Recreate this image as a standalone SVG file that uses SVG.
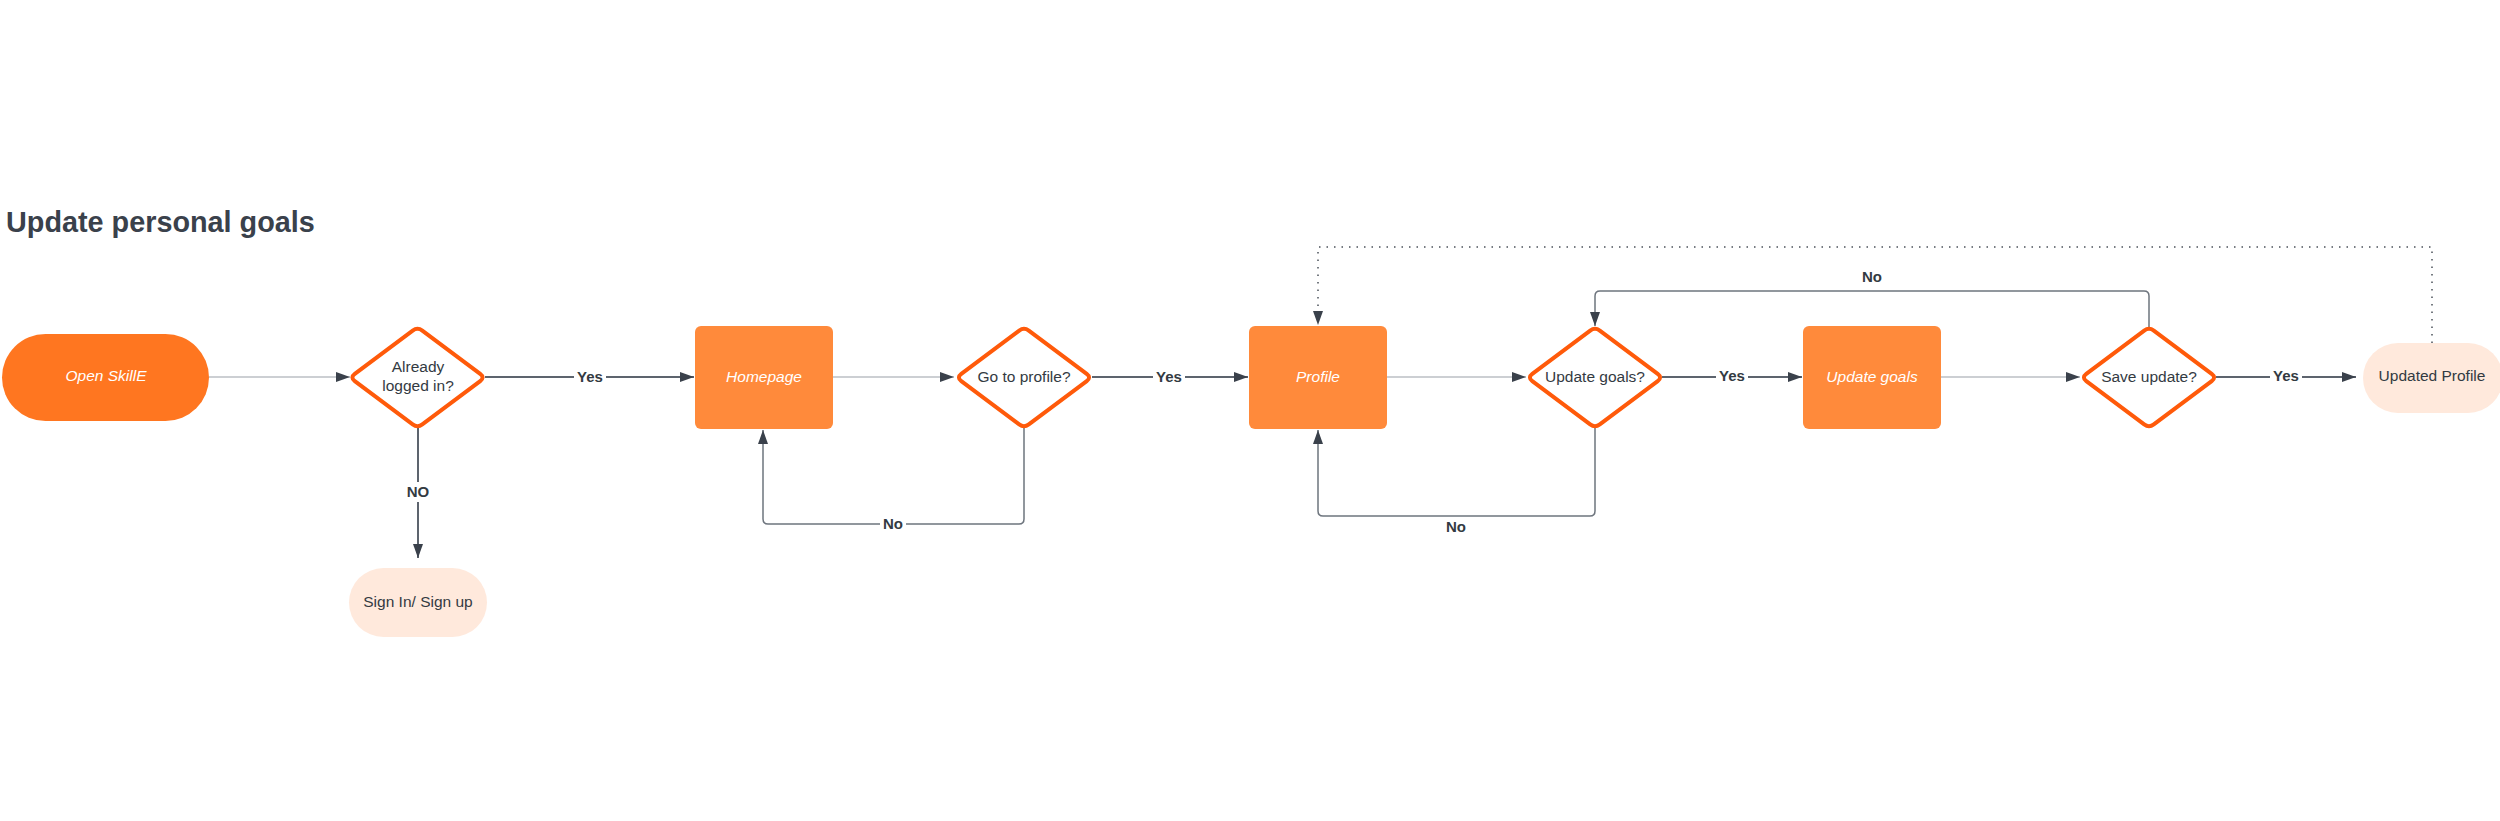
<svg xmlns="http://www.w3.org/2000/svg" width="2500" height="821" viewBox="0 0 2500 821">
<style>
.t{font-family:"Liberation Sans",Arial,sans-serif;font-size:15.5px;fill:#333a42;text-anchor:middle}
.w{fill:#ffffff;font-style:italic}
.lb{font-family:"Liberation Sans",Arial,sans-serif;font-size:15px;font-weight:bold;fill:#333a42;text-anchor:middle}
.title{font-family:"Liberation Sans",Arial,sans-serif;font-size:28.8px;font-weight:bold;fill:#3a414b}
.box{fill:#ff8a3b}
.dia{fill:#ffffff;stroke:#ff5a0a;stroke-width:4;stroke-linejoin:round}
.pill{fill:#ffe9dc}
.thin{fill:none;stroke:#9aa0a8;stroke-width:1.2}
.thick{fill:none;stroke:#5d646e;stroke-width:2}
.loop{fill:none;stroke:#6e757e;stroke-width:1.5}
.dot{fill:none;stroke:#4a5059;stroke-width:1.5;stroke-dasharray:1.5 6}
.bg{fill:#ffffff}
</style>
<defs>
<marker id="ah" markerUnits="userSpaceOnUse" markerWidth="15" markerHeight="11" refX="14" refY="5" orient="auto">
<path d="M0,0 L14,5 L0,10 z" fill="#3a414b"/>
</marker>
<path id="dshape" d="M-62.7,-3.6 L-4.8,-46.9 Q0,-50.5 4.8,-46.9 L62.7,-3.6 Q67.5,0 62.7,3.6 L4.8,46.9 Q0,50.5 -4.8,46.9 L-62.7,3.6 Q-67.5,0 -62.7,-3.6 Z"/>
</defs>
<text class="title" x="6" y="232">Update personal goals</text>
<g id="connectors">
<path class="thin" d="M209,377 H350" marker-end="url(#ah)"/>
<path class="thick" d="M485,377 H694" marker-end="url(#ah)"/>
<path class="thick" d="M418,428 V558" marker-end="url(#ah)"/>
<path class="thin" d="M833,377 H954" marker-end="url(#ah)"/>
<path class="loop" d="M1024,428 V519 Q1024,524 1019,524 H768 Q763,524 763,519 V430" marker-end="url(#ah)"/>
<path class="thick" d="M1092,377 H1248" marker-end="url(#ah)"/>
<path class="thin" d="M1387,377 H1526" marker-end="url(#ah)"/>
<path class="loop" d="M1595,428 V511 Q1595,516 1590,516 H1323 Q1318,516 1318,511 V430" marker-end="url(#ah)"/>
<path class="thick" d="M1662,377 H1802" marker-end="url(#ah)"/>
<path class="thin" d="M1941,377 H2080" marker-end="url(#ah)"/>
<path class="loop" d="M2149,327 V296 Q2149,291 2144,291 H1600 Q1595,291 1595,296 V326" marker-end="url(#ah)"/>
<path class="thick" d="M2216,377 H2356" marker-end="url(#ah)"/>
<path class="dot" d="M2432,343 V247 H1318 V325" marker-end="url(#ah)"/>
<rect class="bg" x="574" y="367" width="32" height="20"/>
<text class="lb" x="590" y="382">Yes</text>
<rect class="bg" x="404" y="482" width="28" height="20"/>
<text class="lb" x="418" y="497">NO</text>
<rect class="bg" x="880" y="514" width="26" height="20"/>
<text class="lb" x="893" y="529">No</text>
<rect class="bg" x="1153" y="367" width="32" height="20"/>
<text class="lb" x="1169" y="382">Yes</text>
<text class="lb" x="1456" y="532">No</text>
<rect class="bg" x="1716" y="366" width="32" height="20"/>
<text class="lb" x="1732" y="381">Yes</text>
<text class="lb" x="1872" y="282">No</text>
<rect class="bg" x="2270" y="366" width="32" height="20"/>
<text class="lb" x="2286" y="381">Yes</text>
</g>
<g id="open">
<rect x="2" y="334" width="207" height="87" rx="43.5" fill="#ff7620"/>
<text class="t w" x="106" y="381">Open SkillE</text>
</g>
<g id="logged">
<use href="#dshape" class="dia" x="417.5" y="377.5"/>
<text class="t" x="418" y="372">Already</text>
<text class="t" x="418" y="391">logged in?</text>
</g>
<g id="signin">
<rect class="pill" x="349" y="568" width="138" height="69" rx="34.5"/>
<text class="t" x="418" y="607">Sign In/ Sign up</text>
</g>
<g id="homepage">
<rect class="box" x="695" y="326" width="138" height="103" rx="6"/>
<text class="t w" x="764" y="382">Homepage</text>
</g>
<g id="gotoprofile">
<use href="#dshape" class="dia" x="1024" y="377.5"/>
<text class="t" x="1024" y="382">Go to profile?</text>
</g>
<g id="profile">
<rect class="box" x="1249" y="326" width="138" height="103" rx="6"/>
<text class="t w" x="1318" y="382">Profile</text>
</g>
<g id="updategoalsq">
<use href="#dshape" class="dia" x="1595" y="377.5"/>
<text class="t" x="1595" y="382">Update goals?</text>
</g>
<g id="updategoals">
<rect class="box" x="1803" y="326" width="138" height="103" rx="6"/>
<text class="t w" x="1872" y="382">Update goals</text>
</g>
<g id="saveupdate">
<use href="#dshape" class="dia" x="2149" y="377.5"/>
<text class="t" x="2149" y="382">Save update?</text>
</g>
<g id="updatedprofile">
<rect class="pill" x="2363" y="343" width="140" height="70" rx="35"/>
<text class="t" x="2432" y="381">Updated Profile</text>
</g>
</svg>
